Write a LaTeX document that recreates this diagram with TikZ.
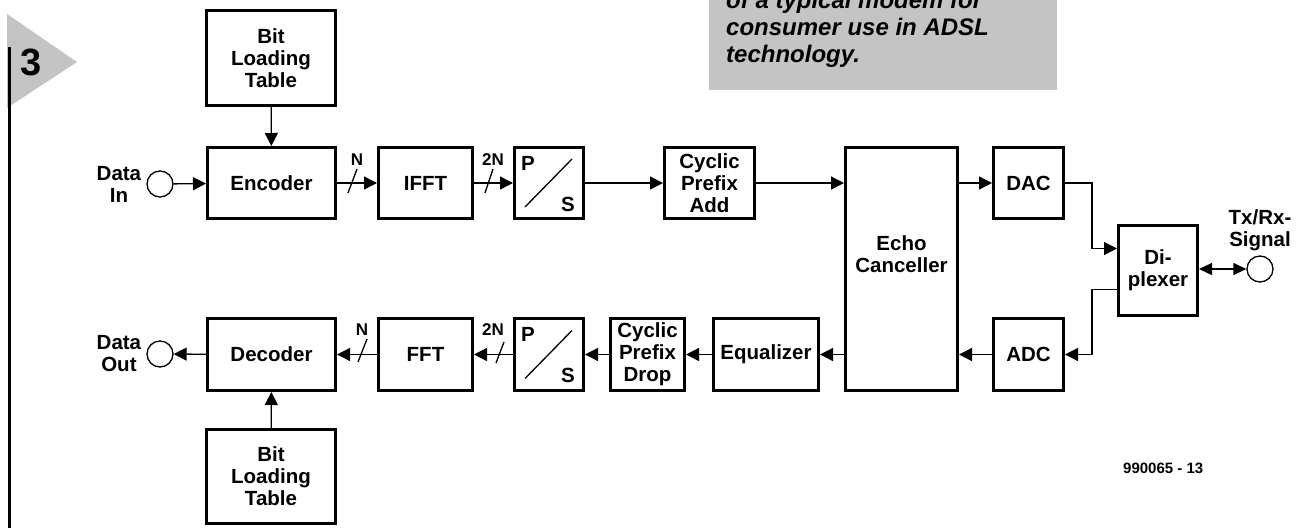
\documentclass[tikz,border=0pt]{standalone}
\usepackage{fontspec}
\setmainfont{Liberation Sans}
\usepackage{xcolor}
\usepackage{tikz}
\usetikzlibrary{arrows.meta, positioning, calc}

\definecolor{tabgray}{RGB}{196,196,196}

\begin{document}
\begin{tikzpicture}[
        x=1pt, y=-1pt,
        block/.style={rectangle, draw=black, line width=3pt, inner sep=0pt, font=\fontsize{20.5}{22}\selectfont\bfseries, align=center},
        port/.style={circle, draw=black, line width=1.3pt, minimum size=26pt, inner sep=0pt},
        sig/.style={-{Triangle[length=13pt,width=13pt]}, line width=1.3pt},
        duplex/.style={{Triangle[length=13pt,width=12pt]}-{Triangle[length=13pt,width=12pt]}, line width=1.3pt},
        bus/.style={line width=1.3pt},
        lbl/.style={inner sep=0pt, font=\fontsize{20.5}{22}\selectfont\bfseries, align=center},
        buslbl/.style={inner sep=0pt, font=\fontsize{17}{19}\selectfont\bfseries},
        caption/.style={anchor=base west, inner sep=0pt, font=\fontsize{24}{27}\selectfont\bfseries\itshape}
    ]
        \useasboundingbox (0,0) rectangle (1302,528);
        \clip (0,0) rectangle (1302,528);

        % Figure tab and caption
        \fill[tabgray] (7,14) -- (7,108) -- (77,62) -- cycle;
        \draw[line width=3pt] (9,47) -- (9,528);
        \node[inner sep=0pt, font=\fontsize{38}{40}\selectfont\bfseries] (fignum) at (31,62) {3};

        \fill[tabgray] (709,-40) rectangle (1057,90);
        \node[caption] (cap1) at (726,8) {of a typical modem for};
        \node[caption] (cap2) at (726,35) {consumer use in ADSL};
        \node[caption] (cap3) at (726,62) {technology.};

        % Transmit path
        \node[block, minimum width=129pt, minimum height=95pt] (tblT) at (271,58) {Bit\\Loading\\Table};
        \node[block, minimum width=128pt, minimum height=71pt] (enc)  at (271.5,183) {Encoder};
        \node[block, minimum width=94pt,  minimum height=71pt] (ifft) at (425.5,183) {IFFT};
        \node[block, minimum width=69pt,  minimum height=71pt] (psT)  at (549,183) {};
        \node[block, minimum width=90pt,  minimum height=71pt] (cpa)  at (709.5,183) {Cyclic\\Prefix\\Add};
        \node[block, minimum width=70pt,  minimum height=71pt] (dac)  at (1028.5,183) {DAC};

        % Shared blocks
        \node[block, minimum width=112pt, minimum height=243pt] (echo) at (901.5,269) {};
        \node[lbl] (echolbl) at (901.5,254) {Echo\\Canceller};
        \node[block, minimum width=79pt,  minimum height=90pt] (dpx)  at (1158,270.5) {Di-\\plexer};

        % Receive path
        \node[block, minimum width=70pt,  minimum height=72pt] (adc)  at (1028.5,354.5) {ADC};
        \node[block, minimum width=105pt, minimum height=72pt] (eq)   at (766,354.5) {Equalizer};
        \node[block, minimum width=74pt,  minimum height=72pt] (cpd)  at (647.5,354.5) {Cyclic\\Prefix\\Drop};
        \node[block, minimum width=69pt,  minimum height=72pt] (psB)  at (549,354.5) {};
        \node[block, minimum width=94pt,  minimum height=72pt] (fft)  at (425.5,354.5) {FFT};
        \node[block, minimum width=128pt, minimum height=72pt] (dec)  at (271.5,354.5) {Decoder};
        \node[block, minimum width=129pt, minimum height=94pt] (tblB) at (271,476.5) {Bit\\Loading\\Table};

        % P/S converters
        \foreach \ps in {psT, psB} {
            \node[lbl] (\ps-p) at ([xshift=-21pt,yshift=20pt]\ps.center) {P};
            \node[lbl] (\ps-s) at ([xshift=19pt,yshift=-21pt]\ps.center) {S};
            \draw[bus] ([xshift=-24pt,yshift=-24pt]\ps.center) -- ([xshift=23pt,yshift=24pt]\ps.center);
        }

        % Ports
        \node[port] (din)  at (160,184) {};
        \node[port] (dout) at (160,354) {};
        \node[port] (trx)  at (1260,269) {};
        \node[lbl, left=5pt of din]  (dinlbl)  {Data\\In};
        \node[lbl, left=5pt of dout] (doutlbl) {Data\\Out};
        \node[lbl, above=4pt of trx] (trxlbl)  {Tx/Rx-\\Signal};

        % Transmit connections
        \draw[sig] (tblT) -- (enc);
        \draw[sig] (din) -- (enc);
        \draw[sig] (enc) -- (ifft);
        \draw[sig] (ifft) -- (psT);
        \draw[sig] (psT) -- (cpa);
        \draw[sig] (cpa.east) -- (cpa.east -| echo.west);
        \draw[sig] (echo.east |- dac.west) -- (dac.west);
        \draw[sig] (dac.east) -- ++(27,0) |- ([yshift=22pt]dpx.west);

        % Receive connections
        \draw[sig] ([yshift=-19pt]dpx.west) -- ++(-25,0) |- (adc.east);
        \draw[sig] (adc.west) -- (adc.west -| echo.east);
        \draw[sig] (echo.west |- eq.east) -- (eq.east);
        \draw[sig] (eq) -- (cpd);
        \draw[sig] (cpd) -- (psB);
        \draw[sig] (psB) -- (fft);
        \draw[sig] (fft) -- (dec);
        \draw[sig] (dec) -- (dout);
        \draw[sig] (tblB) -- (dec);
        \draw[duplex] (dpx.east |- trx.west) -- (trx.west);

        % Bus width marks
        \draw[bus] (348,193) -- (357,169);
        \node[buslbl] (nT)  at (357,160) {N};
        \draw[bus] (485,193) -- (493,169);
        \node[buslbl] (nnT) at (493,160) {2N};
        \draw[bus] (358,362) -- (367,339);
        \node[buslbl] (nB)  at (362,330) {N};
        \draw[bus] (496,363) -- (504,342);
        \node[buslbl] (nnB) at (493,330) {2N};

        \node[buslbl, font=\fontsize{15}{17}\selectfont\bfseries, anchor=west] (fignr) at (1123,468) {990065 - 13};

    \end{tikzpicture}
\end{document}
